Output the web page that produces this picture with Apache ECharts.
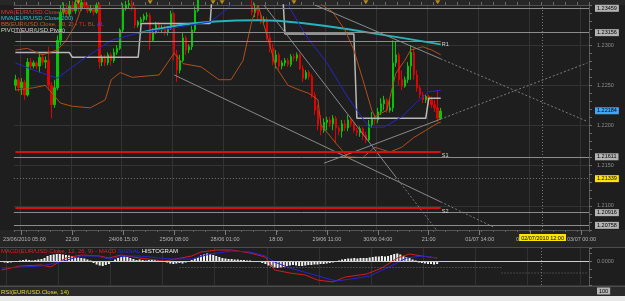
<!DOCTYPE html>
<html>
<head>
<meta charset="utf-8">
<script src="https://cdn.jsdelivr.net/npm/echarts@6/dist/echarts.min.js"></script>
<style>
  html, body { margin: 0; padding: 0; background: #1e1e1e; }
  #chart { width: 625px; height: 301px; }
</style>
</head>
<body>
<div id="chart"></div>
<script>
// ---- data (hourly EUR/USD bars) ----
var SLOTS = 192; // hourly slots on the time axis (incl. empty future)
var timeTickIdx = [2, 19, 36, 53, 70, 87, 104, 121, 138, 155, 172, 189];
var timeTickText = ['23/06/2010 05:00', '22:00', '24/06 15:00', '25/06 08:00', '28/06 01:00', '18:00',
  '29/06 11:00', '30/06 04:00', '21:00', '01/07 14:00', '02/07 07:00', '03/07 00:00'];

var opens = [
  1.2250,1.2257,1.2247,1.2254,1.2238,1.2279,1.2274,1.2278,1.2274,1.2285,
  1.2279,1.2281,1.2250,1.2226,1.2247,1.2306,1.2341,1.2346,1.2339,1.2348,
  1.2343,1.2351,1.2346,1.2353,1.2348,1.2343,1.2346,1.2341,1.2350,1.2279,
  1.2284,1.2278,1.2288,1.2281,1.2291,1.2296,1.2319,1.2346,1.2350,1.2352,
  1.2346,1.2325,1.2329,1.2332,1.2336,1.2337,1.2306,1.2316,1.2325,1.2319,
  1.2322,1.2316,1.2321,1.2339,1.2288,1.2269,1.2281,1.2309,1.2294,1.2298,
  1.2319,1.2343,1.2362,1.2368,1.2365,1.2372,1.2378,1.2374,1.2380,1.2376,
  1.2371,1.2375,1.2369,1.2372,1.2366,1.2370,1.2364,1.2367,1.2362,1.2350,
  1.2341,1.2346,1.2337,1.2329,1.2332,1.2310,1.2296,1.2279,1.2288,1.2274,
  1.2278,1.2281,1.2276,1.2286,1.2284,1.2288,1.2271,1.2259,1.2266,1.2261,
  1.2238,1.2219,1.2201,1.2194,1.2204,1.2207,1.2202,1.2209,1.2197,1.2193,
  1.2202,1.2197,1.2207,1.2202,1.2194,1.2191,1.2196,1.2188,1.2182,1.2201,
  1.2209,1.2207,1.2217,1.2227,1.2232,1.2219,1.2222,1.2278,1.2288,1.2257,
  1.2249,1.2257,1.2274,1.2291,1.2263,1.2247,1.2238,1.2232,1.2236,1.2232,
  1.2226,1.2222,1.2209
];
var closes = [
  1.2257,1.2247,1.2254,1.2238,1.2279,1.2274,1.2278,1.2274,1.2285,1.2279,
  1.2281,1.2250,1.2226,1.2247,1.2306,1.2341,1.2346,1.2339,1.2348,1.2343,
  1.2351,1.2346,1.2353,1.2348,1.2343,1.2346,1.2341,1.2350,1.2279,1.2284,
  1.2278,1.2288,1.2281,1.2291,1.2296,1.2319,1.2346,1.2350,1.2352,1.2346,
  1.2325,1.2329,1.2332,1.2336,1.2337,1.2306,1.2316,1.2325,1.2319,1.2322,
  1.2316,1.2321,1.2339,1.2288,1.2269,1.2281,1.2309,1.2294,1.2298,1.2319,
  1.2343,1.2362,1.2368,1.2365,1.2372,1.2378,1.2374,1.2380,1.2376,1.2371,
  1.2375,1.2369,1.2372,1.2366,1.2370,1.2364,1.2367,1.2362,1.2357,1.2341,
  1.2346,1.2337,1.2329,1.2332,1.2310,1.2296,1.2279,1.2288,1.2274,1.2278,
  1.2281,1.2276,1.2286,1.2284,1.2288,1.2271,1.2259,1.2266,1.2261,1.2238,
  1.2219,1.2201,1.2194,1.2204,1.2207,1.2202,1.2209,1.2197,1.2193,1.2202,
  1.2197,1.2207,1.2202,1.2194,1.2191,1.2196,1.2188,1.2182,1.2201,1.2209,
  1.2207,1.2217,1.2227,1.2232,1.2219,1.2222,1.2278,1.2288,1.2257,1.2249,
  1.2257,1.2274,1.2291,1.2263,1.2247,1.2238,1.2232,1.2236,1.2232,1.2226,
  1.2222,1.2209,1.2218
];
var lows = [
  1.2244,1.2242,1.2238,1.2232,1.2236,1.2269,1.2271,1.2270,1.2266,1.2275,
  1.2271,1.2244,1.2209,1.2222,1.2244,1.2300,1.2337,1.2334,1.2336,1.2341,
  1.2339,1.2341,1.2343,1.2345,1.2340,1.2340,1.2337,1.2339,1.2271,1.2274,
  1.2274,1.2275,1.2275,1.2278,1.2288,1.2294,1.2315,1.2343,1.2346,1.2343,
  1.2321,1.2322,1.2325,1.2329,1.2331,1.2294,1.2304,1.2314,1.2316,1.2315,
  1.2312,1.2312,1.2319,1.2281,1.2254,1.2265,1.2279,1.2288,1.2290,1.2294,
  1.2316,1.2341,1.2358,1.2361,1.2362,1.2369,1.2370,1.2371,1.2372,1.2367,
  1.2366,1.2365,1.2364,1.2362,1.2362,1.2360,1.2360,1.2358,1.2354,1.2337,
  1.2335,1.2331,1.2326,1.2326,1.2306,1.2291,1.2275,1.2271,1.2269,1.2270,
  1.2274,1.2273,1.2273,1.2280,1.2280,1.2269,1.2254,1.2257,1.2257,1.2234,
  1.2213,1.2194,1.2188,1.2191,1.2194,1.2198,1.2194,1.2178,1.2188,1.2185,
  1.2193,1.2193,1.2198,1.2191,1.2187,1.2186,1.2182,1.2178,1.2180,1.2197,
  1.2201,1.2203,1.2213,1.2219,1.2216,1.2216,1.2217,1.2273,1.2250,1.2244,
  1.2247,1.2253,1.2257,1.2257,1.2242,1.2234,1.2228,1.2228,1.2227,1.2222,
  1.2217,1.2204,1.2207
];
var highs = [
  1.2263,1.2260,1.2259,1.2257,1.2284,1.2284,1.2281,1.2280,1.2289,1.2289,
  1.2286,1.2298,1.2254,1.2257,1.2312,1.2350,1.2353,1.2352,1.2355,1.2355,
  1.2358,1.2356,1.2358,1.2356,1.2352,1.2350,1.2350,1.2353,1.2353,1.2288,
  1.2288,1.2291,1.2291,1.2296,1.2300,1.2321,1.2352,1.2355,1.2358,1.2356,
  1.2348,1.2331,1.2335,1.2339,1.2341,1.2340,1.2321,1.2329,1.2329,1.2325,
  1.2325,1.2324,1.2343,1.2341,1.2294,1.2288,1.2316,1.2312,1.2301,1.2324,
  1.2348,1.2368,1.2372,1.2373,1.2376,1.2383,1.2381,1.2385,1.2384,1.2379,
  1.2378,1.2377,1.2376,1.2374,1.2373,1.2372,1.2370,1.2369,1.2365,1.2362,
  1.2352,1.2350,1.2340,1.2336,1.2335,1.2315,1.2302,1.2294,1.2291,1.2281,
  1.2284,1.2284,1.2289,1.2289,1.2291,1.2290,1.2275,1.2269,1.2269,1.2264,
  1.2242,1.2226,1.2213,1.2209,1.2211,1.2211,1.2213,1.2212,1.2199,1.2207,
  1.2207,1.2213,1.2211,1.2204,1.2197,1.2199,1.2198,1.2192,1.2207,1.2217,
  1.2214,1.2222,1.2234,1.2237,1.2234,1.2232,1.2306,1.2304,1.2291,1.2269,
  1.2261,1.2279,1.2300,1.2296,1.2269,1.2250,1.2242,1.2239,1.2238,1.2236,
  1.2232,1.2244,1.2222
];

// indicator lines, [slot, value]
var mva200 = [[41,1.2315],[55,1.2325],[65,1.2329],[81,1.2331],[97,1.2327],[119,1.2315],[142,1.2301]];
var bbMid = [[0,1.2278],[6,1.2269],[14,1.2259],[22,1.2281],[32,1.2306],[42,1.2316],[52,1.2321],[65,1.2329],
  [70,1.2343],[73,1.2353],[78,1.2362],[86,1.2360],[91,1.2350],[97,1.2312],[104,1.2278],[111,1.2235],
  [118,1.2198],[123,1.2198],[129,1.2211],[134,1.2229],[138,1.2242],[142,1.2244]];
var bbTop = [[0,1.2294],[4,1.2296],[9,1.2288],[14,1.2294],[17,1.2306],[20,1.2325],[22,1.2346],[24,1.2362],
  [40,1.2371],[52,1.2366],[65,1.2393],[80,1.2381],[95,1.2366],[100,1.2356],[106,1.2341],[110,1.2319],
  [113,1.2294],[116,1.2257],[119,1.2219],[120,1.2211],[124,1.2219],[127,1.2265],[130,1.2281],[132,1.2294],
  [136,1.2298],[139,1.2294],[142,1.2288]];
var bbBottom = [[0,1.2244],[6,1.2247],[10,1.2250],[13,1.2237],[15,1.2228],[19,1.2224],[25,1.2222],[30,1.2232],
  [32,1.2257],[35,1.2266],[39,1.2260],[48,1.2263],[53,1.2290],[56,1.2277],[62,1.2273],[68,1.2257],[72,1.2257],
  [76,1.2281],[79,1.2331],[81,1.2350],[84,1.2312],[87,1.2273],[91,1.2250],[95,1.2244],[98,1.2240],[101,1.2232],
  [102,1.2201],[107,1.2178],[111,1.2161],[116,1.2160],[119,1.2170],[120,1.2173],[125,1.2167],[129,1.2173],
  [133,1.2185],[137,1.2194],[141,1.2203],[142,1.2204]];

// daily pivot: first slot of each day and its level
var pivotStarts = [0, 19, 42, 66, 90, 114, 138];
var pivotLevels = [1.2291, 1.2285, 1.2327, 1.2380, 1.2314, 1.2209, 1.2234];

// hand drawn trend lines (solid part, dotted projection)
var trendSolid = [
  [[53,1.2263],[142,1.2105]],
  [[83,1.2350],[127,1.2136]],
  [[100,1.2350],[142,1.2283]],
  [[103,1.2153],[142,1.2208]]
];
var trendDotted = [
  [[142,1.2105],[160,1.2073]],
  [[127,1.2136],[141,1.2068]],
  [[142,1.2283],[191,1.2205]],
  [[142,1.2208],[191,1.2278]]
];

var levelPrices = [1.23459, 1.23156, 1.21611, 1.20916, 1.20758];
var gridPrices = [1.2100, 1.2150, 1.2200, 1.2250, 1.2300];
var lastPrice = 1.22184;
var crossPrice = 1.21339;
var crossSlot = 176;
var crossTimeText = '02/07/2010 12:00';
var r1Level = 1.2305, s1Level = 1.21671, s2Level = 1.20976;
var dayMarkSlots = [21, 45, 66, 69, 93, 117, 141];

// MACD panel
var macdHist = [
  -0.0002,-0.0003,-0.0004,-0.0003,-0.0002,-0.0001,
  0.0001,0.0002,0.0003,0.0002,0.0001,0.0002,0.0003,
  0.0004,0.0006,0.0010,0.0012,0.0013,0.0014,0.0014,
  0.0013,0.0012,0.0011,0.0010,0.0008,
  0.0007,0.0006,0.0005,0.0003,0.0001,
  -0.0004,-0.0007,-0.0009,-0.0010,-0.0008,-0.0006,
  -0.0002,
  0.0003,0.0006,0.0008,0.0009,0.0008,0.0006,0.0004,
  0.0002,0.0003,0.0002,0.0001,0.0002,0.0003,0.0002,0.0001,0.0000,-0.0001,
  -0.0003,-0.0005,-0.0006,-0.0005,-0.0004,-0.0005,-0.0003,-0.0001,
  0.0002,0.0005,0.0008,0.0011,0.0013,0.0015,0.0014,0.0012,0.0010,0.0008,0.0006,
  0.0005,0.0004,0.0004,0.0003,0.0003,0.0002,0.0002,0.0001,0.0001,0.0000,-0.0001,-0.0002,
  -0.0004,-0.0006,-0.0009,-0.0011,-0.0013,-0.0014,-0.0013,-0.0012,-0.0010,-0.0009,-0.0008,
  -0.0009,-0.0010,-0.0010,-0.0009,-0.0008,-0.0008,-0.0007,-0.0007,-0.0006,-0.0006,-0.0005,-0.0004,-0.0003,-0.0002,
  0.0001,0.0003,0.0004,0.0005,0.0005,0.0006,0.0005,0.0006,0.0006,0.0006,
  0.0007,0.0008,0.0009,0.0009,0.0010,0.0009,0.0010,
  0.0012,0.0014,0.0015,0.0013,
  0.0010,0.0008,0.0006,
  0.0003,0.0001,
  -0.0003,-0.0004,-0.0005,-0.0006,-0.0006,-0.0007,-0.0006
];
var macdLine = [[0,-0.0018],[6,-0.0010],[13,-0.0008],[16,-0.0012],[21,0.0006],[26,0.0012],[32,0.0010],[35,0.0006],
  [39,0.0012],[45,0.0006],[53,0.0000],[62,0.0010],[65,0.0018],[70,0.0022],[75,0.0022],[81,0.0016],[86,0.0008],
  [89,-0.0018],[94,-0.0024],[99,-0.0028],[103,-0.0038],[108,-0.0042],[112,-0.0032],[119,-0.0026],[124,-0.0014],
  [129,0.0006],[133,0.0014],[137,0.0010],[142,0.0006]];
var signalLine = [[0,-0.0014],[13,-0.0010],[19,-0.0002],[26,0.0010],[31,0.0010],[35,0.0004],[40,0.0010],[45,0.0010],
  [55,0.0004],[62,0.0004],[68,0.0014],[75,0.0020],[81,0.0018],[86,0.0010],[89,-0.0002],[94,-0.0014],[101,-0.0026],
  [109,-0.0040],[114,-0.0036],[120,-0.0030],[127,-0.0010],[132,0.0006],[137,0.0010],[142,0.0006]];
var macdGuide1 = [[58,-0.0013],[163,-0.0013]];
var macdGuide2 = [[163,-0.0024],[191,-0.0024]];

// ---- build ----
var FONT = 'Liberation Sans';
var slots = [];
for (var s = 0; s < SLOTS; s++) slots.push('h' + s);

var candles = opens.map(function (o, i) { return [o, closes[i], lows[i], highs[i]]; });

var pivotData = [];
for (var i = 0; i < opens.length; i++) {
  var k = 0;
  while (k + 1 < pivotStarts.length && pivotStarts[k + 1] <= i) k++;
  pivotData.push([i, pivotLevels[k]]);
}

function isTimeTick(index) { return timeTickIdx.indexOf(index) >= 0; }

function lineSeries(data, color, extra) {
  var s = {
    type: 'line', xAxisIndex: 0, yAxisIndex: 0, data: data, symbol: 'none', silent: true,
    lineStyle: { color: color, width: 1 }, z: 3
  };
  for (var key in extra) s[key] = extra[key];
  return s;
}

function boxLabel(text, bg) {
  return {
    show: true, position: 'end', distance: 6, formatter: text, backgroundColor: bg, color: '#000',
    padding: [1, 2, 0, 2], fontSize: 5.5, fontFamily: FONT
  };
}

var series = [];

// horizontal price grid
series.push({
  type: 'line', xAxisIndex: 0, yAxisIndex: 0, data: [], z: 1,
  markLine: {
    z: 1, silent: true, symbol: ['none', 'none'], animation: false, precision: 6,
    data: gridPrices.map(function (p) {
      return { yAxis: p, lineStyle: { color: '#333333', width: 1, type: 'solid' }, label: { show: false } };
    })
  }
});

series.push({
  type: 'candlestick', xAxisIndex: 0, yAxisIndex: 0, data: candles, barWidth: 2, z: 2,
  itemStyle: { color: '#00c800', color0: '#e00000', borderColor: '#00c800', borderColor0: '#e00000', borderWidth: 1 }
});

series.push(lineSeries(pivotData, '#b8b8b8', { lineStyle: { color: '#b8b8b8', width: 1.5 } }));
series.push(lineSeries(mva200, '#26b4bc', { smooth: true, lineStyle: { color: '#26b4bc', width: 2 } }));
series.push(lineSeries(bbMid, '#2626c8'));
series.push(lineSeries(bbTop, '#b0501e'));
series.push(lineSeries(bbBottom, '#b0501e'));
trendSolid.forEach(function (d) { series.push(lineSeries(d, '#8a8a8a')); });
trendDotted.forEach(function (d) {
  series.push(lineSeries(d, '#7c7c7c', { lineStyle: { color: '#7c7c7c', width: 1, type: [2, 2] } }));
});

// levels, pivot lines and crosshair with their boxed labels
var marks = [];
levelPrices.forEach(function (p) {
  marks.push({ yAxis: p, lineStyle: { color: '#8c8c8c', width: 1, type: 'solid' }, label: boxLabel(p.toFixed(5), '#b4b4b4') });
});
marks.push({ yAxis: lastPrice, lineStyle: { color: 'rgba(0,0,0,0)', width: 1 }, label: boxLabel(lastPrice.toFixed(5), '#40a8ec') });
marks.push({ yAxis: crossPrice, lineStyle: { color: '#777', width: 1, type: [1, 2] }, label: boxLabel(crossPrice.toFixed(5), '#ffe400') });
var xLab = boxLabel(crossTimeText, '#ffe400');
xLab.position = 'start';
xLab.distance = 4;
marks.push({ xAxis: crossSlot, lineStyle: { color: '#777', width: 1, type: [1, 2] }, label: xLab });
function sideLine(level, color, width, text, dy) {
  return [
    { coord: [0, level], lineStyle: { color: color, width: width, type: 'solid' },
      label: { show: true, position: 'end', distance: 1, formatter: text, color: '#d8d8d8', fontSize: 5.5, fontFamily: FONT, offset: [0, dy] } },
    { coord: [142, level] }
  ];
}
marks.push(sideLine(r1Level, '#3cc43c', 1, 'R1', 3));
marks.push(sideLine(s1Level, '#d41010', 2, 'S1', 4));
marks.push(sideLine(s2Level, '#d41010', 2, 'S2', 4));

series.push({
  type: 'line', xAxisIndex: 0, yAxisIndex: 0, data: [], clip: false, z: 4,
  markLine: { silent: true, symbol: ['none', 'none'], animation: false, precision: 6, data: marks }
});

series.push({
  type: 'scatter', xAxisIndex: 0, yAxisIndex: 0, clip: false, silent: true, z: 6,
  data: dayMarkSlots.map(function (d) { return [d, 1.23535]; }),
  symbol: 'triangle', symbolRotate: 180, symbolSize: [5, 4], itemStyle: { color: '#d8a420' }
});

// MACD
series.push({
  type: 'bar', xAxisIndex: 3, yAxisIndex: 1, data: macdHist, barWidth: 2, silent: true,
  itemStyle: { color: '#f0f0f0' },
  markLine: {
    silent: true, symbol: ['none', 'none'], animation: false, precision: 6,
    data: [
      { yAxis: 0, lineStyle: { color: '#cfcfcf', width: 1, type: 'solid' }, label: { show: false } },
      { xAxis: crossSlot, lineStyle: { color: '#777', width: 1, type: [1, 2] }, label: { show: false } }
    ]
  }
});
function macdSeries(data, color, extra) {
  var s = { type: 'line', xAxisIndex: 3, yAxisIndex: 1, data: data, symbol: 'none', silent: true, lineStyle: { color: color, width: 1 }, z: 3 };
  for (var key in extra) s[key] = extra[key];
  return s;
}
series.push(macdSeries(macdLine, '#d41c1c'));
series.push(macdSeries(signalLine, '#2424d4'));
series.push(macdSeries(macdGuide1, '#6c6c6c', { lineStyle: { color: '#6c6c6c', width: 1, type: [1, 2] } }));
series.push(macdSeries(macdGuide2, '#6c6c6c', { lineStyle: { color: '#6c6c6c', width: 1, type: [1, 2] } }));

// RSI strip (only its frame and label show)
series.push({ type: 'line', xAxisIndex: 4, yAxisIndex: 2, data: [] });

var option = {
  backgroundColor: '#1e1e1e',
  animation: false,
  textStyle: { fontFamily: FONT },
  grid: [
    { left: 0, right: 36, top: 5, height: 225 },
    { left: 0, right: 36, top: 248, height: 37 },
    { left: 0, right: 36, top: 291, height: 3 }
  ],
  xAxis: [
    {
      gridIndex: 0, type: 'category', data: slots, position: 'bottom',
      axisLine: { show: true, lineStyle: { color: '#555' } },
      axisTick: { show: true, alignWithLabel: true, length: 5, interval: isTimeTick, lineStyle: { color: '#7a7a7a' } },
      axisLabel: {
        interval: isTimeTick, margin: 6, fontSize: 5.5, color: '#b4b4b4', fontFamily: FONT,
        formatter: function (v, idx) {
          var t = timeTickText[timeTickIdx.indexOf(idx)] || '';
          return idx === timeTickIdx[0] ? '{f|' + t + '}' : t;
        },
        rich: { f: { padding: [0, 0, 0, 6], fontSize: 5.5, color: '#b4b4b4', fontFamily: FONT } }
      },
      splitLine: { show: true, interval: isTimeTick, lineStyle: { color: '#333333' } }
    },
    {
      gridIndex: 0, type: 'category', data: slots, position: 'top',
      axisLine: { show: true, lineStyle: { color: '#505050' } },
      axisTick: { show: true, interval: 3, length: 3, lineStyle: { color: '#6a6a6a' } },
      axisLabel: { show: false }, splitLine: { show: false }
    },
    {
      gridIndex: 0, type: 'category', data: slots, position: 'bottom',
      axisLine: { show: false },
      axisTick: { show: true, interval: 3, length: 2, lineStyle: { color: '#5c5c5c' } },
      axisLabel: { show: false }, splitLine: { show: false }
    },
    {
      gridIndex: 1, type: 'category', data: slots,
      axisLine: { show: false }, axisTick: { show: false }, axisLabel: { show: false },
      splitLine: { show: true, interval: isTimeTick, lineStyle: { color: '#313131' } }
    },
    {
      gridIndex: 2, type: 'category', data: slots,
      axisLine: { show: false }, axisTick: { show: false }, axisLabel: { show: false }, splitLine: { show: false }
    }
  ],
  yAxis: [
    {
      gridIndex: 0, type: 'value', position: 'right', min: 1.2070, max: 1.2350, interval: 0.001,
      axisLine: { show: true, lineStyle: { color: '#5a5a5a' } },
      axisTick: { show: true, length: 3, lineStyle: { color: '#6a6a6a' } },
      axisLabel: {
        margin: 8, fontSize: 5.5, color: '#8c8c8c', fontFamily: FONT,
        formatter: function (v) { return (Math.round(v * 10000) % 50 === 0 && v < 1.2345) ? v.toFixed(4) : ''; }
      },
      splitLine: { show: false }
    },
    {
      gridIndex: 1, type: 'value', position: 'right', min: -0.0048, max: 0.0026, interval: 0.0016,
      axisLine: { show: true, lineStyle: { color: '#5a5a5a' } },
      axisTick: { show: true, length: 3, lineStyle: { color: '#6a6a6a' } },
      axisLabel: {
        margin: 8, fontSize: 5.5, color: '#8c8c8c', fontFamily: FONT,
        formatter: function (v) { return Math.abs(v) < 1e-9 ? '0.0000' : ''; }
      },
      splitLine: { show: false }
    },
    {
      gridIndex: 2, type: 'value', position: 'right', min: 0, max: 100, interval: 100,
      axisLine: { show: false }, axisTick: { show: false },
      axisLabel: {
        margin: 8, formatter: function (v) { return v === 100 ? '{b|100}' : ''; },
        rich: { b: { backgroundColor: '#b4b4b4', color: '#000', padding: [1, 2, 0, 2], fontSize: 5.5, fontFamily: FONT } }
      },
      splitLine: { show: false }
    }
  ],
  graphic: [
    { type: 'rect', silent: true, z: -10, shape: { x: 0, y: 0, width: 625, height: 5 }, style: { fill: '#272727' } },
    { type: 'rect', silent: true, z: -10, shape: { x: 0, y: 230, width: 625, height: 17 }, style: { fill: '#252525' } },
    { type: 'rect', silent: true, z: -10, shape: { x: 0, y: 247, width: 625, height: 1 }, style: { fill: '#4c4c4c' } },
    { type: 'rect', silent: true, z: -10, shape: { x: 0, y: 285.5, width: 625, height: 1.5 }, style: { fill: '#4c4c4c' } },
    { type: 'rect', silent: true, z: -10, shape: { x: 0, y: 287, width: 625, height: 9 }, style: { fill: '#2a2a2a' } },
    { type: 'rect', silent: true, z: 50, shape: { x: 0, y: 296, width: 625, height: 5 }, style: { fill: '#e8e8e8' } },
    { type: 'text', silent: true, z: 60, left: 1, top: 9, style: { text: 'MVA(EUR/USD.Close,30)', fill: '#d83a3a', font: '6px "Liberation Sans"' } },
    { type: 'text', silent: true, z: 60, left: 1, top: 15, style: { text: 'MVA(EUR/USD.Close,200)', fill: '#30c4cc', font: '6px "Liberation Sans"' } },
    {
      type: 'text', silent: true, z: 60, left: 1, top: 21,
      style: {
        text: '{a|BB(EUR/USD.Close, 20, 2) - }{b|TL} {c|BL} {d|AL}', font: '6px "Liberation Sans"',
        rich: { a: { fill: '#c45e28' }, b: { fill: '#c82a1c' }, c: { fill: '#b04c1c' }, d: { fill: '#3a44e6' } }
      }
    },
    { type: 'text', silent: true, z: 60, left: 1, top: 27, style: { text: 'PIVOT(EUR/USD,Pivot)', fill: '#d4d4d4', font: '6px "Liberation Sans"' } },
    {
      type: 'text', silent: true, z: 60, left: 1, top: 248,
      style: {
        text: '{a|MACD(EUR/USD.Close, 12, 26, 9) - MACD} {b|SIGNAL} {c|HISTOGRAM}', font: '6px "Liberation Sans"',
        rich: { a: { fill: '#e02020' }, b: { fill: '#2a2ae4' }, c: { fill: '#f0f0f0' } }
      }
    },
    { type: 'text', silent: true, z: 60, left: 1, top: 289, style: { text: 'RSI(EUR/USD.Close, 14)', fill: '#e4d838', font: '6px "Liberation Sans"' } }
  ],
  series: series
};

var chart = echarts.init(document.getElementById('chart'));
chart.setOption(option);
</script>
</body>
</html>
